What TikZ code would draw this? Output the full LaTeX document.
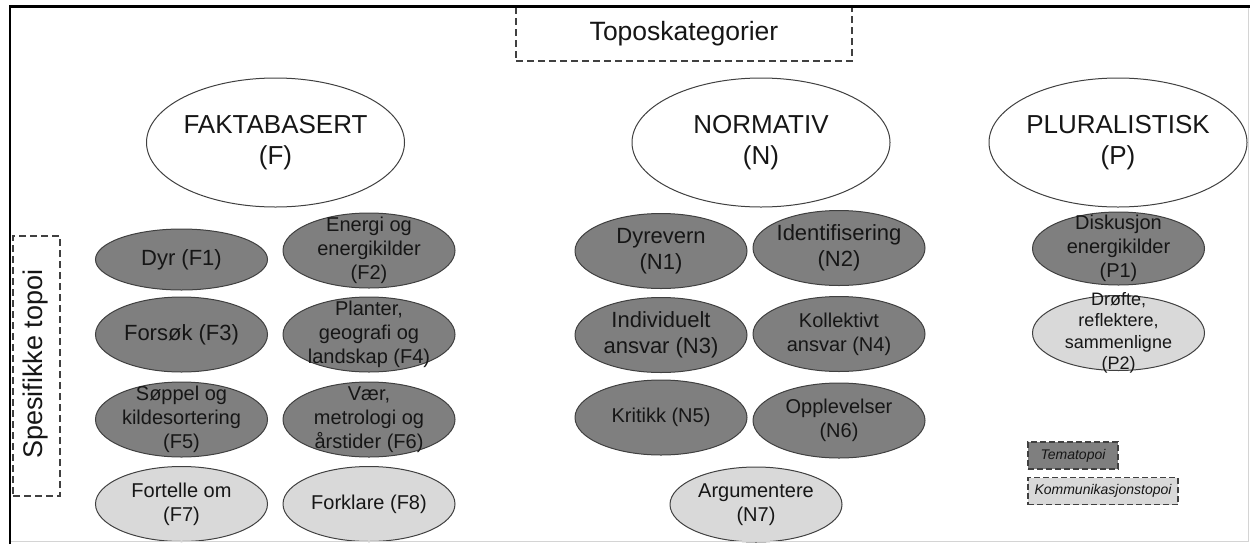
\documentclass[tikz,border=0pt]{standalone}
\usepackage{fontspec}
\setmainfont{Liberation Sans}
\usetikzlibrary{shapes.geometric}

\definecolor{darkfill}{HTML}{7F7F7F}
\definecolor{lightfill}{HTML}{D9D9D9}
\definecolor{edge}{HTML}{404040}
\definecolor{ink}{HTML}{161616}
\definecolor{framegray}{HTML}{D4D4D4}

\tikzset{
  category/.style={ellipse, draw=edge, line width=1pt, fill=white,
    minimum width=258pt, minimum height=129pt, inner sep=0pt},
  cattext/.style={align=center, font=\fontsize{26}{31}\selectfont, text=ink},
  topic/.style={ellipse, draw=edge, line width=1pt, inner sep=0pt,
    minimum width=172pt, minimum height=75pt},
  thema/.style={topic, fill=darkfill},
  komm/.style={topic, fill=lightfill},
  bigtxt/.style={align=center, font=\fontsize{22}{26}\selectfont, text=ink},
  midtxt/.style={align=center, font=\fontsize{20}{24}\selectfont, text=ink},
  smalltxt/.style={align=center, font=\fontsize{18}{21.5}\selectfont, text=ink},
  dashbox/.style={draw=edge, dash pattern=on 7pt off 4pt, line width=1.3pt, inner sep=0pt},
  legendbox/.style={draw=edge, dash pattern=on 6pt off 3pt, line width=1.2pt,
    inner sep=0pt, minimum height=27pt, text=ink,
    font=\fontsize{14}{16}\selectfont\itshape},
}

\begin{document}
\begin{tikzpicture}[x=1pt, y=-1pt]
  \useasboundingbox (0,0) rectangle (1252,544);

  % heading and side label
  \node[dashbox, minimum width=336pt, minimum height=54pt, text=ink,
        font=\fontsize{26.5}{30}\selectfont] (title) at (684,34) {Toposkategorier};
  \node[dashbox, minimum width=47pt, minimum height=260pt] (spes) at (36.5,366) {};
  \node[rotate=90, inner sep=0pt, text=ink, font=\fontsize{27}{30}\selectfont]
        (spestxt) at (36,364) {Spesifikke topoi};

  % categories
  \node[category, label={[cattext]center:{FAKTABASERT\\(F)}}] (catF) at (275.5,142.5) {};
  \node[category, label={[cattext]center:{NORMATIV\\(N)}}] (catN) at (761,142.5) {};
  \node[category, label={[cattext]center:{PLURALISTISK\\(P)}}] (catP) at (1118,142.5) {};

  % faktabasert topoi
  \node[thema, minimum height=61pt, label={[bigtxt]center:{Dyr (F1)}}] (f1) at (181.5,259.5) {};
  \node[thema, label={[midtxt]center:{Energi og\\energikilder\\(F2)}}] (f2) at (369,250.5) {};
  \node[thema, label={[bigtxt]center:{Forsøk (F3)}}] (f3) at (181.5,334.5) {};
  \node[thema, label={[midtxt]center:{Planter,\\geografi og\\landskap (F4)}}] (f4) at (369,334.5) {};
  \node[thema, label={[midtxt]center:{Søppel og\\kildesortering\\(F5)}}] (f5) at (181.5,419.5) {};
  \node[thema, label={[midtxt]center:{Vær,\\metrologi og\\årstider (F6)}}] (f6) at (369,419.5) {};
  \node[komm, label={[midtxt]center:{Fortelle om\\(F7)}}] (f7) at (181.5,504) {};
  \node[komm, label={[midtxt]center:{Forklare (F8)}}] (f8) at (369,504) {};

  % normative topoi
  \node[thema, label={[bigtxt]center:{Dyrevern\\(N1)}}] (n1) at (661,251) {};
  \node[thema, label={[bigtxt]center:{Identifisering\\(N2)}}] (n2) at (839,248) {};
  \node[thema, label={[bigtxt]center:{Individuelt\\ansvar (N3)}}] (n3) at (661,335) {};
  \node[thema, label={[midtxt]center:{Kollektivt\\ansvar (N4)}}] (n4) at (839,334) {};
  \node[thema, label={[midtxt]center:{Kritikk (N5)}}] (n5) at (661,417.5) {};
  \node[thema, label={[midtxt]center:{Opplevelser\\(N6)}}] (n6) at (839,420.5) {};
  \node[komm, label={[midtxt]center:{Argumentere\\(N7)}}] (n7) at (756,504.5) {};

  % pluralistic topoi
  \node[thema, minimum height=73pt, label={[midtxt]center:{Diskusjon\\energikilder\\(P1)}}] (p1) at (1118.5,248.5) {};
  \node[komm, label={[smalltxt]center:{Drøfte,\\reflektere,\\sammenligne\\(P2)}}] (p2) at (1118.5,333) {};

  % legend
  \node[legendbox, fill=darkfill, minimum width=90pt] (legT) at (1073,455.5) {Tematopoi};
  \node[legendbox, fill=lightfill, minimum width=150pt] (legK) at (1103,491) {Kommunikasjonstopoi};

  % frame
  \draw[framegray, line width=1pt] (10,541.5) -- (1248.5,541.5) -- (1248.5,6);
  \draw[black, line width=2.5pt] (10,544) -- (10,6.5) -- (1249.5,6.5);
\end{tikzpicture}
\end{document}
